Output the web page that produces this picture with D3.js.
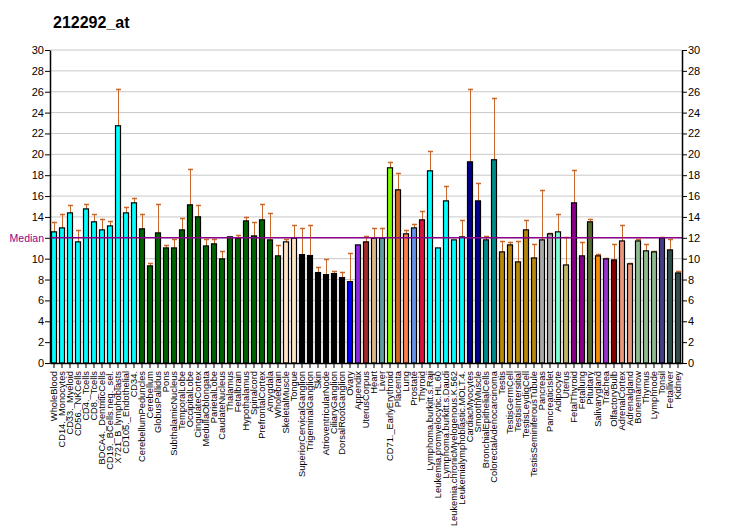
<!DOCTYPE html>
<html><head><meta charset="utf-8">
<script src="https://cdn.jsdelivr.net/npm/d3@7"></script>
<style>body{margin:0;background:#fff}svg{display:block}text{font-family:"Liberation Sans",Arial,sans-serif}</style>
</head><body><svg id="c" width="732" height="530"></svg>
<script>
const categories=["WholeBlood","CD14._Monocytes","CD33._Myeloid","CD56._NKCells","CD4._Tcells","CD8._Tcells","BDCA4._DentriticCells","CD19._BCells.neg._sel.","X721_B_lymphoblasts","CD105._Endothelial","CD34.","CerebellumPeduncles","Cerebellum","GlobusPallidus","Pons","SubthalamicNucleus","TemporalLobe","OccipitalLobe","CingulateCortex","MedullaOblongata","ParietalLobe","CaudateNucleus","Thalamus","Fetalbrain","Hypothalamus","Spinalcord","PrefrontalCortex","Amygdala","Wholebrain","SkeletalMuscle","Tongue","SuperiorCervicalGanglion","TrigeminalGanglion","Skin","AtrioventricularNode","CiliaryGanglion","DorsalRootGanglion","Ovary","Appendix","UterusCorpus","Heart","Liver","CD71._EarlyErythroid","Placenta","Lung","Prostate","Thyroid","Lymphoma.burkitt.s.Raji","Leukemia.promyelocytic.HL.60","Lymphoma.burkitt.s.Daudi","Leukemia.chronicMyelogenous.K.562","Leukemialymphoblastic.MOLT.4.","CardiacMyocytes","SmoothMuscle","BronchialEpithelialCells","ColorectalAdenocarcinoma","Testis","TestisGermCell","TestisIntersitial","TestisLeydigCell","TestisSeminiferousTubule","Pancreas","PancreaticIslet","Adipocyte","Uterus","FetalThyroid","Fetallung","Pituitary","Salivarygland","Trachea","OlfactoryBulb","AdrenalCortex","Adrenalgland","Bonemarrow","Thymus","Lymphnode","Tonsil","Fetalliver","Kidney"];
const values=[12.57,12.95,14.39,11.61,14.77,13.53,12.76,13.14,22.74,14.39,15.35,12.86,9.31,12.47,11.03,11.03,12.76,15.16,14.01,11.22,11.42,9.98,12.09,11.96,13.62,12.18,13.72,11.8,10.27,11.61,11.96,10.39,10.3,8.67,8.47,8.57,8.19,7.8,11.32,11.61,11.96,11.96,18.71,16.6,12.38,12.95,13.72,18.42,11.03,15.54,11.8,12.09,19.28,15.54,11.8,19.48,10.65,11.32,9.69,12.76,10.07,11.8,12.38,12.57,9.4,15.35,10.27,13.53,10.27,9.98,9.88,11.7,9.5,11.7,10.75,10.65,11.99,10.84,8.63];
const errTops=[13.53,14.3,15.16,12.76,15.25,14.26,13.82,13.62,26.29,14.97,15.83,14.3,9.59,15.25,11.32,11.9,13.91,18.61,15.16,11.9,11.93,10.71,12.12,12.28,14.01,13.5,15.25,14.39,11.32,11.9,13.24,12.95,13.24,9.21,9.98,8.83,8.73,10.55,11.32,12.18,12.95,12.95,19.28,18.23,12.76,13.34,14.58,20.34,11.03,16.98,11.8,13.72,26.29,17.27,12.18,25.42,11.7,11.61,11.7,13.72,11.42,16.6,12.47,14.3,12.09,18.52,11.61,13.82,10.46,10.07,11.42,13.24,9.59,11.9,11.42,10.75,12.09,11.9,8.83];
const colors=["#00FFFF","#00FFFF","#00FFFF","#00FFFF","#00FFFF","#00FFFF","#00FFFF","#00FFFF","#00FFFF","#00FFFF","#00FFFF",
"#006400","#006400","#006400","#006400","#006400","#006400","#006400","#006400","#006400","#006400","#006400","#006400","#006400","#006400","#006400","#006400","#006400","#006400",
"#FFE4C4","#FFE4C4","#000000","#000000","#000000","#000000","#000000","#000000","#0000FF","#8A2BE2","#A52A2A","#DEB887","#5F9EA0","#7FFF00","#D2691E","#FF7F50","#6495ED","#DC143C",
"#00FFFF","#00FFFF","#00FFFF","#00FFFF","#00FFFF","#00008B","#00008B","#008B8B","#008B8B",
"#B8860B","#B8860B","#B8860B","#B8860B","#B8860B","#A9A9A9","#A9A9A9","#7FFFD4","#BDB76B","#8B008B","#8B008B","#556B2F","#FF8C00","#9932CC","#8B0000","#E9967A","#E9967A","#8FBC8F","#8FBC8F","#8FBC8F","#483D8B","#2F4F4F","#2F4F4F"];
const yTicks=d3.range(0,31,2);
const median=12.0;
const title="212292_at";

const svg=d3.select("#c");
const L=50,R=682,T=50,B=363;
const x=d3.scaleBand().domain(categories).range([L,R]).paddingInner(0.25).paddingOuter(0.125);
const y=d3.scaleLinear().domain([0,30]).range([B,T]);

svg.append("text").attr("x",53).attr("y",28).attr("font-size",16).attr("font-weight","bold").text(title);

// grid
svg.append("g").selectAll("line").data(yTicks.filter(d=>d>0)).join("line")
 .attr("x1",L).attr("x2",R).attr("y1",d=>y(d)).attr("y2",d=>y(d)).attr("stroke","#c8c8c8").attr("stroke-width",1);

// error bars
const eg=svg.append("g").attr("stroke","#C8682A").attr("stroke-width",1);
categories.forEach((c,i)=>{
  if(errTops[i]>values[i]+0.02){
    const cx=Math.round(x(c)+x.bandwidth()/2)+0.5;
    eg.append("line").attr("x1",cx).attr("x2",cx).attr("y1",y(values[i])).attr("y2",y(errTops[i]));
    eg.append("line").attr("x1",cx-2.5).attr("x2",cx+2.5).attr("y1",Math.round(y(errTops[i]))+0.5).attr("y2",Math.round(y(errTops[i]))+0.5).attr("stroke-width",1.5);
  }
});

// bars
svg.append("g").selectAll("rect").data(categories).join("rect")
 .attr("x",(d)=>x(d)+0.5).attr("width",x.bandwidth()-1)
 .attr("y",(d,i)=>y(values[i])).attr("height",(d,i)=>B-y(values[i]))
 .attr("fill",(d,i)=>colors[i]).attr("stroke","#000").attr("stroke-width",1.2);

// median
svg.append("line").attr("x1",L).attr("x2",R).attr("y1",y(median)).attr("y2",y(median)).attr("stroke","#8B008B").attr("stroke-width",1.5);
svg.append("text").attr("x",44).attr("y",y(median)+4).attr("font-size",10.5).attr("text-anchor","end").attr("fill","#8B008B").text("Median");

// axes
const la=svg.append("g").attr("transform",`translate(${L},0)`).call(d3.axisLeft(y).tickValues(yTicks).tickSize(5).tickSizeOuter(0));
const ra=svg.append("g").attr("transform",`translate(${R},0)`).call(d3.axisRight(y).tickValues(yTicks).tickSize(5).tickSizeOuter(0));
[la,ra].forEach(a=>{a.selectAll("text").attr("font-size",11).attr("font-family","Liberation Sans, Arial, sans-serif");a.select(".domain").attr("stroke-width",1.5);});
la.selectAll("text").attr("x",-6);ra.selectAll("text").attr("x",6);
la.selectAll(".tick").filter(d=>d===median).select("text").remove();
const xa=svg.append("g").attr("transform",`translate(0,${B})`).call(d3.axisBottom(x).tickSize(5).tickSizeOuter(0));
xa.select(".domain").attr("stroke-width",1.5);
xa.selectAll("text").attr("font-size",9.3).attr("font-family","Liberation Sans, Arial, sans-serif")
 .attr("transform","rotate(-90)").attr("text-anchor","end").attr("dy","0.35em").attr("x",-8).attr("y",0);
</script></body></html>
